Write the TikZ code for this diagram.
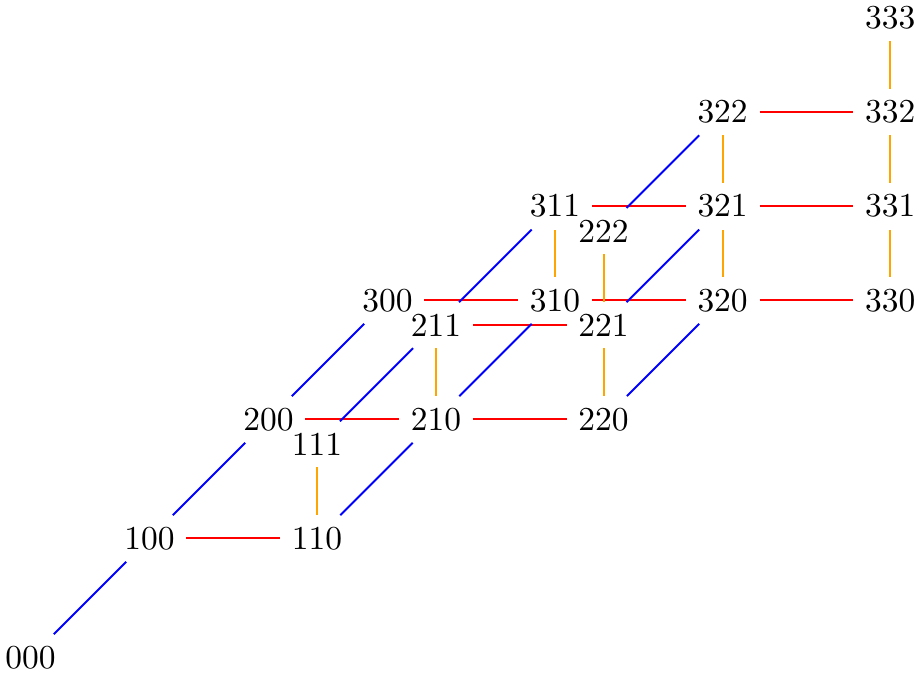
\documentclass[tikz,border=0pt]{standalone}
\usepackage{tikz}
\definecolor{edgeA}{RGB}{0,0,255}
\definecolor{edgeB}{RGB}{255,0,0}
\definecolor{edgeC}{RGB}{255,165,0}
\tikzset{
  vlabel/.style={inner sep=3.333pt},
  aedge/.style={semithick, edgeA},
  bedge/.style={semithick, edgeB},
  cedge/.style={semithick, edgeC},
}
\begin{document}
\begin{tikzpicture}
  \useasboundingbox (-0.32,-0.163) rectangle (9.375,6.906);

  % Vertices abc with a >= b >= c
  \foreach \a/\b/\c in {0/0/0, 1/0/0, 1/1/0, 1/1/1, 2/0/0, 2/1/0, 2/1/1, 2/2/0, 2/2/1, 2/2/2,
                        3/0/0, 3/1/0, 3/1/1, 3/2/0, 3/2/1, 3/2/2, 3/3/0, 3/3/1, 3/3/2, 3/3/3}{
    \node[vlabel] (v\a\b\c) at ({1.25*\a+1.76*\b},{1.25*\a+0.99*\c}) {\a\b\c};
  }

  % Second digit raised
  \foreach \s/\e in {100/110, 200/210, 210/220, 300/310, 310/320, 320/330,
                     211/221, 311/321, 321/331, 322/332}
    \draw[bedge] (v\s) -- (v\e);

  % Third digit raised
  \foreach \s/\e in {110/111, 210/211, 220/221, 221/222, 310/311, 320/321,
                     321/322, 330/331, 331/332, 332/333}
    \draw[cedge] (v\s) -- (v\e);

  % First digit raised
  \foreach \s/\e in {000/100, 100/200, 200/300, 110/210, 210/310, 111/211,
                     211/311, 220/320, 221/321, 222/322}
    \draw[aedge] (v\s) -- (v\e);
\end{tikzpicture}
\end{document}
